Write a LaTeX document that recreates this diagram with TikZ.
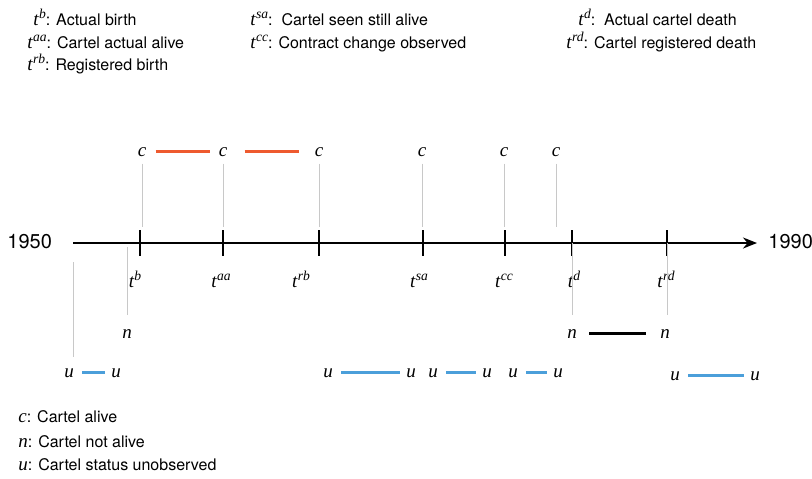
\documentclass[tikz,border=0pt]{standalone}
\usepackage{fontspec}
\setmainfont{TeX Gyre Heros}
\newfontfamily\symfont{Liberation Serif}
\usetikzlibrary{arrows.meta,positioning,calc}
\definecolor{alivered}{HTML}{EE5A2F}
\definecolor{unobsblue}{HTML}{4B9FDA}
\definecolor{guidegrey}{HTML}{C8C8C8}
\newcommand{\sym}[1]{{\fontsize{9.5}{11}\selectfont\symfont\itshape #1}}
\newcommand{\tsup}[1]{\sym{t}\kern0.2pt\raisebox{3.3pt}{\fontsize{6.8}{8}\selectfont\symfont\itshape #1}}

\begin{document}
\begin{tikzpicture}[
  x=0.5pt, y=-0.5pt,
  legendtext/.style={anchor=base west, font=\fontsize{8}{9.6}\selectfont, inner sep=0pt},
  state/.style={font=\fontsize{9.5}{11}\selectfont\symfont\itshape, inner sep=2pt, anchor=base},
  tlabel/.style={font=\fontsize{9.5}{11}\selectfont, inner sep=0pt, anchor=base},
  year/.style={font=\fontsize{10}{12}\selectfont, inner sep=0pt, anchor=base west},
  timeline/.style={line width=1pt, -{Stealth[length=7pt, width=5.5pt]}},
  tickmark/.style={line width=1.4pt},
  guide/.style={guidegrey, line width=0.5pt},
  alive/.style={alivered, line width=1.4pt},
  notalive/.style={black, line width=1.4pt},
  unobs/.style={unobsblue, line width=1.4pt, shorten <=2pt, shorten >=1pt},
]
  \useasboundingbox (0,0) rectangle (812,478);

  %% ---- Legend (top) ----
  \node[legendtext] (lb)  at (33,25)  {\tsup{b}: Actual birth};
  \node[legendtext] (laa) at (27,48)  {\tsup{aa}: Cartel actual alive};
  \node[legendtext] (lrb) at (27,70)  {\tsup{rb}: Registered birth};
  \node[legendtext] (lsa) at (250,25) {\tsup{sa}:\ \ Cartel seen still alive};
  \node[legendtext] (lcc) at (250,48) {\tsup{cc}: Contract change observed};
  \node[legendtext] (ld)  at (578,25) {\tsup{d}:\ \ Actual cartel death};
  \node[legendtext] (lrd) at (566,48) {\tsup{rd}: Cartel registered death};

  %% ---- Time line ----
  \coordinate (start) at (73,243);
  \coordinate (end)   at (757,243);
  \draw[timeline] (start) -- (end);
  \node[year] (y1950) at (7,248)   {1950};
  \node[year] (y1990) at (768,248) {1990};

  \foreach \name/\x in {b/140,aa/223,rb/319,sa/423,cc/505,d/572,rd/667}{
    \coordinate (t\name) at (\x,243);
    \draw[tickmark] (t\name) ++(0,-13) -- ++(0,26);
  }
  \foreach \name/\x in {b/135,aa/221,rb/301,sa/419,cc/504,d/574,rd/666}
    \node[tlabel] (l\name) at (\x,287) {\tsup{\name}};

  %% ---- Alive observations ----
  \foreach \i/\x in {1/142,2/223,3/319,4/422,5/504,6/556}
    \node[state] (c\i) at (\x,156) {c};
  \coordinate (guideend) at (0,227);
  \foreach \i in {1,...,6}
    \draw[guide, shorten <=1.5pt] (c\i.south) -- (c\i |- guideend);
  \draw[alive, shorten <=2.5pt, shorten >=2pt]   (c1) -- (c2);
  \draw[alive, shorten <=6.5pt, shorten >=5.5pt] (c2) -- (c3);

  %% ---- Not alive ----
  \node[state] (n1) at (127,338) {n};
  \node[state] (n2) at (572,338) {n};
  \node[state] (n3) at (665,338) {n};
  \draw[guide, shorten <=2pt, shorten >=5pt] (n1 |- start) -- (n1.north);
  \draw[guide, shorten >=5pt] (td) -- (n2.north);
  \draw[guide, shorten >=5pt] (trd) -- (trd |- n3.north);
  \draw[notalive, shorten <=4pt, shorten >=5pt] (n2) -- (n3);

  %% ---- Unobserved ----
  \foreach \i/\x/\y in {1/69/377,2/116/377,3/328/377,4/411/377,5/433/377,
                        6/487/377,7/513/377,8/558/377,9/675/380,10/755/380}
    \node[state] (u\i) at (\x,\y) {u};
  \draw[guide, shorten <=9.5pt, shorten >=3.5pt] (start) -- (start |- u1.north);
  \foreach \a/\b in {1/2,3/4,5/6,7/8,9/10}
    \draw[unobs] (u\a) -- (u\b);

  %% ---- Legend (bottom) ----
  \node[legendtext] (lc) at (18,422) {\sym{c}: Cartel alive};
  \node[legendtext] (ln) at (18,447) {\sym{n}: Cartel not alive};
  \node[legendtext] (lu) at (18,470) {\sym{u}: Cartel status unobserved};

\end{tikzpicture}
\end{document}
